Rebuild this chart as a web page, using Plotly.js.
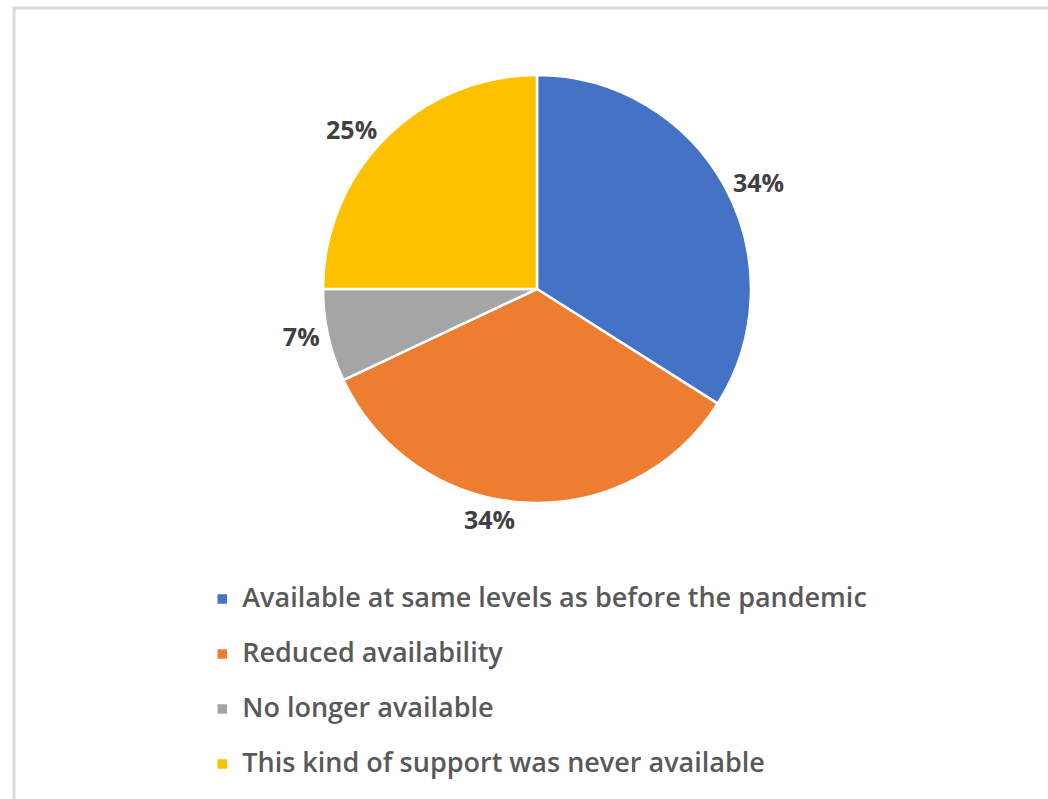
<!DOCTYPE html>
<html>
<head>
<meta charset="utf-8">
<script src="https://cdn.plot.ly/plotly-3.0.1.min.js"></script>
<style>
  html, body { margin: 0; padding: 0; background: #ffffff; }
  #chart { width: 1048px; height: 799px; }
</style>
</head>
<body>
<div id="chart"></div>
<script>
const categories = [
  'Available at same levels as before the pandemic',
  'Reduced availability',
  'No longer available',
  'This kind of support was never available'
];
const shares = [34, 34, 7, 25];
const sliceColors = ['#4472C4', '#ED7D31', '#A5A5A5', '#FFC000'];

// legend labels: larger text, with a trailing blank line so entries are spaced like the reference
const legendLabels = categories.map(c => '<span style="font-size:27px">' + c + '</span><br> ');

const trace = {
  type: 'pie',
  labels: legendLabels,
  values: shares,
  sort: false,
  direction: 'clockwise',
  rotation: 0,
  marker: { colors: sliceColors, line: { color: '#ffffff', width: 2.5 } },
  textinfo: 'percent',
  texttemplate: '%{percent:.0%}',
  textposition: 'outside',
  outsidetextfont: { family: 'Open Sans, sans-serif', size: 25, color: '#404040', weight: 700 },
  hoverinfo: 'percent',
  domain: { x: [0.3082, 0.7166], y: [0.3705, 0.9061] }
};

const layout = {
  width: 1048,
  height: 799,
  margin: { l: 0, r: 0, t: 0, b: 0, autoexpand: false },
  paper_bgcolor: '#ffffff',
  showlegend: true,
  legend: {
    x: 0.193, xanchor: 'left',
    y: 0.2747, yanchor: 'top',
    valign: 'top',
    font: { family: 'Open Sans, sans-serif', size: 20, color: '#595959', weight: 600 },
    bgcolor: 'rgba(0,0,0,0)'
  },
  shapes: [{
    type: 'rect', xref: 'paper', yref: 'paper',
    x0: 14 / 1048, x1: 1.05, y0: -0.05, y1: 1 - 8 / 799,
    line: { color: '#d9d9d9', width: 3 }, fillcolor: 'rgba(0,0,0,0)', layer: 'below'
  }]
};

Plotly.newPlot('chart', [trace], layout, { displayModeBar: false, staticPlot: true });
</script>
</body>
</html>
